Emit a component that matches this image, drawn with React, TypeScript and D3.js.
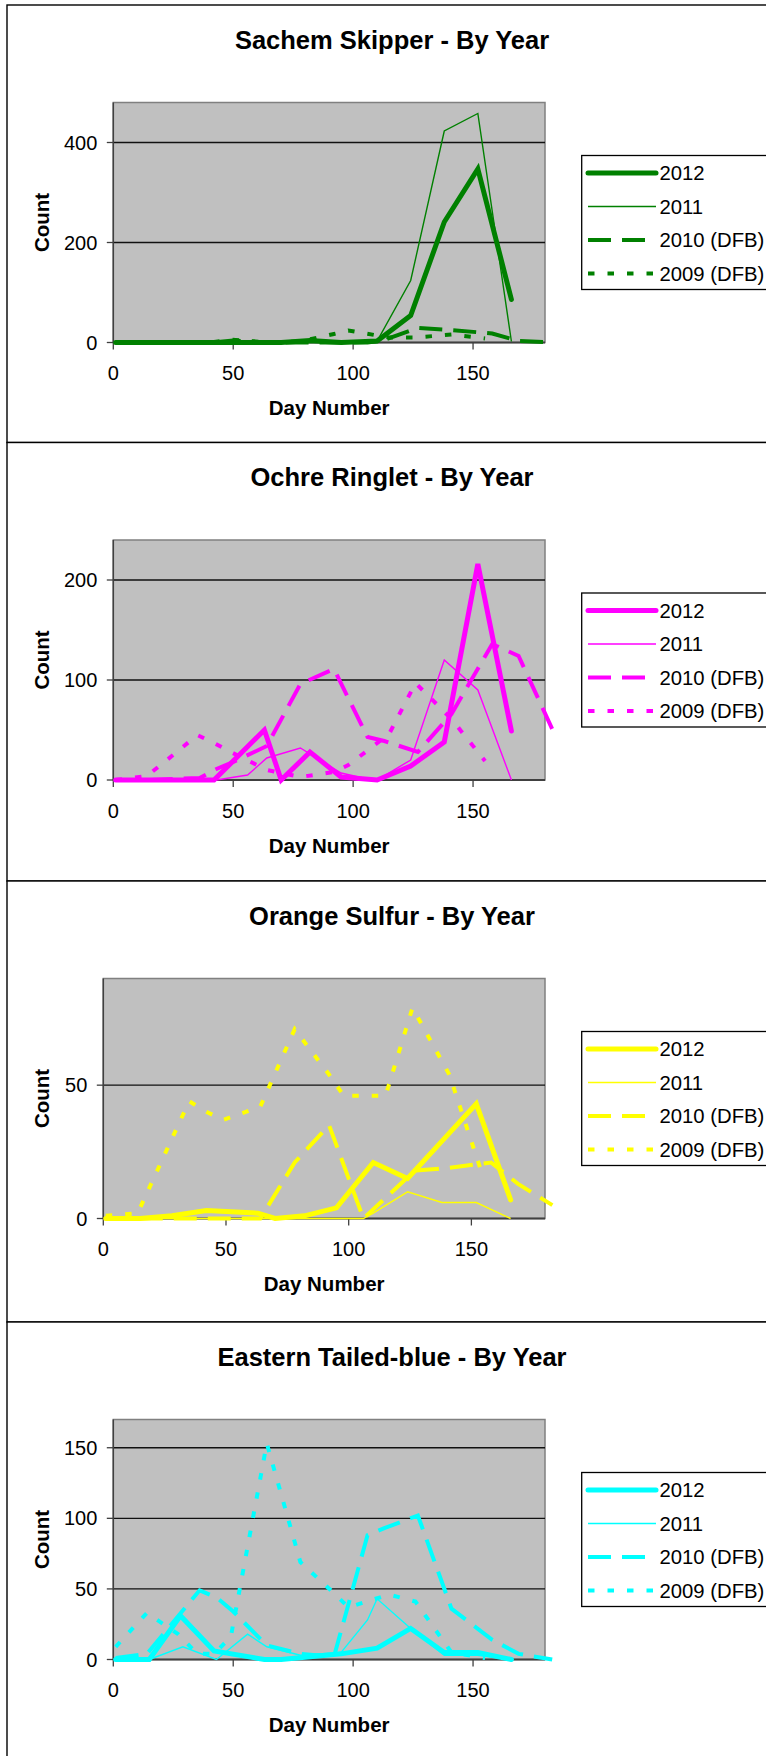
import React from "react";
import * as d3 from "d3";

// ---------- survey day numbers per year ----------
const days2012 = [1, 15, 28, 42, 63, 70, 82, 95, 110, 124, 138, 152, 166];
const days2011 = [1, 15, 29, 43, 56, 64, 78, 95, 106, 110, 124, 138, 152, 166];
const days2010 = [1, 14, 36, 43, 50, 64, 78, 92, 106, 113, 127, 141, 158, 169, 183];
const days2009 = [1, 14, 27, 35, 42, 49, 64, 78, 92, 98, 115, 126, 141, 155];

const yearLabels = ["2012", "2011", "2010 (DFB)", "2009 (DFB)"];
const xTicks = [0, 50, 100, 150];
const xMax = 180;

// ---------- Sachem Skipper ----------
const sachemTitle = "Sachem Skipper - By Year";
const sachem2012 = [0, 0, 0, 0, 0, 0, 4, 0, 3, 54, 241, 347, 86];
const sachem2011 = [0, 0, 0, 0, 0, 0, 0, 0, 0, 3, 124, 423, 458, 2];
const sachem2010 = [0, 0, 0, 1, 4, 0, 0, 0, 0, 5, 29, 25, 18, 3, 0];
const sachem2009 = [0, 0, 0, 0, 1, 6, 0, 2, 17, 24, 10, 10, 16, 8];
const sachemYTicks = [0, 200, 400];
const sachemYMax = 480;

// ---------- Ochre Ringlet ----------
const ochreTitle = "Ochre Ringlet - By Year";
const ochre2012 = [0, 0, 0, 0, 50, 0, 28, 3, 0, 14, 38, 216, 49];
const ochre2011 = [0, 0, 0, 0, 5, 22, 32, 7, 1, 0, 20, 120, 90, 0];
const ochre2010 = [0, 0, 2, 11, 18, 34, 96, 111, 43, 39, 28, 66, 136, 124, 51];
const ochre2009 = [0, 4, 29, 45, 37, 28, 10, 3, 8, 15, 46, 97, 61, 19];
const ochreYTicks = [0, 100, 200];
const ochreYMax = 240;

// ---------- Orange Sulfur ----------
const sulfurTitle = "Orange Sulfur - By Year";
const sulfur2012 = [0, 0, 1, 3, 2, 0, 1, 4, 21, 15, 29, 43, 7];
const sulfur2011 = [0, 0, 0, 0, 0, 0, 0, 0, 0, 2, 10, 6, 6, 0];
const sulfur2010 = [0, 0, 0, 0, 0, 0, 21, 35, 0, 6, 18, 19, 21, 13, 5];
const sulfur2009 = [1, 2, 28, 44, 40, 37, 42, 71, 54, 46, 46, 79, 54, 15];
const sulfurYTicks = [0, 50];
const sulfurYMax = 90;

// ---------- Eastern Tailed-blue ----------
const blueTitle = "Eastern Tailed-blue - By Year";
const blue2012 = [0, 0, 31, 6, 0, 0, 2, 4, 8, 22, 5, 5, 0];
const blue2011 = [0, 0, 9, 0, 18, 9, 3, 5, 28, 43, 22, 3, 3, 0];
const blue2010 = [1, 4, 49, 44, 34, 10, 4, 2, 88, 93, 102, 36, 14, 4, 0];
const blue2009 = [9, 33, 18, 4, 4, 16, 153, 69, 47, 37, 46, 41, 5, 1];
const blueYTicks = [0, 50, 100, 150];
const blueYMax = 170;

const yearDays = [days2012, days2011, days2010, days2009];

const panels = [
  { title: sachemTitle, color: "#008000", top: 5, left: 113.3, yMax: sachemYMax, yTicks: sachemYTicks, series: [sachem2012, sachem2011, sachem2010, sachem2009] },
  { title: ochreTitle, color: "#ff00ff", top: 442.5, left: 113.3, yMax: ochreYMax, yTicks: ochreYTicks, series: [ochre2012, ochre2011, ochre2010, ochre2009] },
  { title: sulfurTitle, color: "#ffff00", top: 881, left: 103.3, yMax: sulfurYMax, yTicks: sulfurYTicks, series: [sulfur2012, sulfur2011, sulfur2010, sulfur2009] },
  { title: blueTitle, color: "#00ffff", top: 1322, left: 113.3, yMax: blueYMax, yTicks: blueYTicks, series: [blue2012, blue2011, blue2010, blue2009] },
];

const lineStyles = [
  { width: 5, dash: undefined as string | undefined, cap: "round" },
  { width: 1.4, dash: undefined as string | undefined, cap: "butt" },
  { width: 4, dash: "23,11", cap: "butt" },
  { width: 4, dash: "6.5,13", cap: "butt" },
];

const FONT = "'Liberation Sans', Arial, Helvetica, sans-serif";
const W = 766;
const H = 1756;

function Panel({ p, nextTop }: { p: (typeof panels)[number]; nextTop: number }) {
  const T = p.top;
  const plotTop = T + 97.5;
  const plotBottom = T + 337.5;
  const plotLeft = p.left;
  const plotRight = 545;
  const x = d3.scaleLinear().domain([0, xMax]).range([plotLeft, plotRight]);
  const y = d3.scaleLinear().domain([0, p.yMax]).range([plotBottom, plotTop]);
  const legendTop = T + 150.5;
  const legendRows = [168, 201.5, 235, 268.5];

  return (
    <g>
      <rect x={7} y={T} width={800} height={nextTop - T} fill="#ffffff" stroke="#000000" strokeWidth={1.4} />
      <text x={392} y={T + 43.5} textAnchor="middle" fontFamily={FONT} fontWeight="bold" fontSize={25.5} fill="#000">
        {p.title}
      </text>
      {/* plot area */}
      <rect x={plotLeft} y={plotTop} width={plotRight - plotLeft} height={plotBottom - plotTop} fill="#c0c0c0" stroke="#808080" strokeWidth={1.5} />
      {p.yTicks.filter((t) => t > 0).map((t) => (
        <line key={"g" + t} x1={plotLeft} x2={plotRight} y1={y(t)} y2={y(t)} stroke="#111" strokeWidth={1.3} />
      ))}
      {/* axes */}
      <line x1={plotLeft} x2={plotLeft} y1={plotTop} y2={plotBottom} stroke="#404040" strokeWidth={1.5} />
      <line x1={plotLeft} x2={plotRight} y1={plotBottom} y2={plotBottom} stroke="#404040" strokeWidth={1.8} />
      {p.yTicks.map((t) => (
        <g key={"y" + t}>
          <line x1={plotLeft - 6.5} x2={plotLeft} y1={y(t)} y2={y(t)} stroke="#404040" strokeWidth={1.3} />
          <text x={plotLeft - 16} y={y(t) + 7} textAnchor="end" fontFamily={FONT} fontSize={20} fill="#000">
            {t}
          </text>
        </g>
      ))}
      {xTicks.map((t) => (
        <g key={"x" + t}>
          <line x1={x(t)} x2={x(t)} y1={plotBottom} y2={plotBottom + 7} stroke="#404040" strokeWidth={1.3} />
          <text x={x(t)} y={T + 375} textAnchor="middle" fontFamily={FONT} fontSize={20} fill="#000">
            {t}
          </text>
        </g>
      ))}
      <text x={(plotLeft + plotRight) / 2} y={T + 410} textAnchor="middle" fontFamily={FONT} fontWeight="bold" fontSize={20.5} fill="#000">
        Day Number
      </text>
      <text
        transform={`translate(48.5, ${(plotTop + plotBottom) / 2}) rotate(-90)`}
        textAnchor="middle"
        fontFamily={FONT}
        fontWeight="bold"
        fontSize={20.5}
        fill="#000"
      >
        Count
      </text>
      {/* series, drawn 2009 first so 2012 is on top */}
      {[3, 2, 1, 0].map((i) => {
        const days = yearDays[i];
        const vals = p.series[i];
        const line = d3
          .line<number>()
          .x((_, k) => x(days[k]))
          .y((v) => y(v));
        const st = lineStyles[i];
        return (
          <path
            key={"s" + i}
            d={line(vals) || ""}
            fill="none"
            stroke={p.color}
            strokeWidth={st.width}
            strokeDasharray={st.dash}
            strokeLinecap={st.cap as any}
            strokeLinejoin="miter"
          />
        );
      })}
      {/* legend */}
      <rect x={581.7} y={legendTop} width={220} height={134} fill="#ffffff" stroke="#000" strokeWidth={1.3} />
      {yearLabels.map((lab, i) => {
        const st = lineStyles[i];
        const ly = T + legendRows[i];
        return (
          <g key={"l" + i}>
            <line x1={588} x2={656} y1={ly} y2={ly} stroke={p.color} strokeWidth={st.width} strokeDasharray={st.dash} strokeLinecap={i === 0 ? "round" : "butt"} />
            <text x={659.5} y={ly + 7} fontFamily={FONT} fontSize={20.3} fill="#000">
              {lab}
            </text>
          </g>
        );
      })}
    </g>
  );
}

export default function App() {
  const tops = panels.map((p) => p.top).concat([H + 10]);
  return (
    <svg width={W} height={H} style={{ position: "absolute", left: 0, top: 0, background: "#fff" }}>
      <rect x={0} y={0} width={W} height={H} fill="#ffffff" />
      {panels.map((p, i) => (
        <Panel key={i} p={p} nextTop={tops[i + 1]} />
      ))}
    </svg>
  );
}
